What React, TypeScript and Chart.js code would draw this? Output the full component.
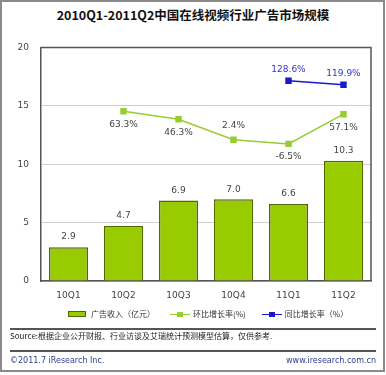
import React, { useEffect, useRef } from "react";
import { Chart, registerables } from "chart.js";

Chart.register(...registerables);

const categories = ["10Q1", "10Q2", "10Q3", "10Q4", "11Q1", "11Q2"];
const revenue = [2.9, 4.7, 6.9, 7.0, 6.6, 10.3];
const qoqGrowth = [null, 63.3, 46.3, 2.4, -6.5, 57.1];
const yoyGrowth = [null, null, null, null, 128.6, 119.9];
const yTicks = [0, 5, 10, 15, 20];
const qoqLabelAbove = [false, false, false, true, false, false];

const title = "2010Q1-2011Q2中国在线视频行业广告市场规模";
const legendBar = "广告收入（亿元）";
const legendQoq = "环比增长率(%)";
const legendYoy = "同比增长率（%）";
const sourceText = "Source:根据企业公开财报、行业访谈及艾瑞统计预测模型估算，仅供参考.";
const footLeft = "©2011.7 iResearch Inc.";
const footRight = "www.iresearch.com.cn";

const FONT = "'DejaVu Sans', 'Noto Sans CJK SC', sans-serif";
const CJK = "'Noto Sans CJK SC', 'DejaVu Sans', sans-serif";

const labelPlugin = {
  id: "valueLabels",
  afterDatasetsDraw(chart: any) {
    const ctx = chart.ctx;
    ctx.save();
    ctx.font = "9px " + FONT;
    ctx.textAlign = "center";
    ctx.textBaseline = "middle";
    chart.data.datasets.forEach((ds: any, di: number) => {
      const meta = chart.getDatasetMeta(di);
      meta.data.forEach((el: any, i: number) => {
        const v = ds.data[i];
        if (v === null || v === undefined) return;
        let text = "";
        let y = el.y;
        if (di === 0) {
          ctx.fillStyle = "#444";
          text = v.toFixed(1);
          y = el.y - 10;
        } else if (di === 1) {
          ctx.fillStyle = "#444";
          text = v.toFixed(1) + "%";
          y = qoqLabelAbove[i] ? el.y - 14 : el.y + 13;
        } else {
          ctx.fillStyle = "#3333cc";
          text = v.toFixed(1) + "%";
          y = el.y - 11;
        }
        ctx.fillText(text, el.x, y);
      });
    });
    ctx.restore();
  },
};

function ChartBox() {
  const ref = useRef<HTMLCanvasElement>(null);
  useEffect(() => {
    if (!ref.current) return;
    const chart = new Chart(ref.current, {
      type: "bar",
      data: {
        labels: categories,
        datasets: [
          {
            type: "bar",
            label: legendBar,
            data: revenue,
            backgroundColor: "#99cc00",
            borderColor: "#4f6b00",
            borderWidth: 1.5,
            categoryPercentage: 1,
            barPercentage: 0.71,
            yAxisID: "y",
            order: 2,
          } as any,
          {
            type: "line",
            label: legendQoq,
            data: qoqGrowth,
            borderColor: "#99cc33",
            backgroundColor: "#99cc33",
            borderWidth: 1.5,
            pointStyle: "rect",
            pointRadius: 3.5,
            yAxisID: "y1",
            order: 1,
          } as any,
          {
            type: "line",
            label: legendYoy,
            data: yoyGrowth,
            borderColor: "#1a1acc",
            backgroundColor: "#1a1acc",
            borderWidth: 1.5,
            pointStyle: "rect",
            pointRadius: 3.5,
            yAxisID: "y1",
            order: 0,
          } as any,
        ],
      },
      options: {
        animation: false,
        responsive: false,
        maintainAspectRatio: false,
        layout: { padding: { top: 13, right: 15, left: 0, bottom: 0 } },
        plugins: { legend: { display: false }, tooltip: { enabled: false } },
        scales: {
          x: {
            grid: { display: false, drawTicks: false },
            border: { color: "#555", width: 1.5 },
            ticks: { color: "#444", font: { size: 9, family: FONT }, padding: 9 },
            afterFit: (s: any) => { s.height = 27; },
          },
          y: {
            min: 0,
            max: 20,
            afterBuildTicks: (s: any) => { s.ticks = yTicks.map((v) => ({ value: v })); },
            grid: { color: "#cfcfcf", lineWidth: 1, drawTicks: false },
            border: { color: "#555", width: 1.5 },
            ticks: { color: "#444", font: { size: 9, family: FONT }, padding: 12 },
            afterFit: (s: any) => { s.width = 41; },
          },
          y1: {
            display: false,
            min: -300,
            max: 200,
          },
        },
      },
      plugins: [
        labelPlugin,
        {
          id: "box",
          afterDraw(c: any) {
            const { left, right, top, bottom } = c.chartArea;
            const ctx = c.ctx;
            ctx.save();
            ctx.strokeStyle = "#555";
            ctx.lineWidth = 1.5;
            ctx.beginPath();
            ctx.moveTo(left, top);
            ctx.lineTo(right, top);
            ctx.lineTo(right, bottom);
            ctx.stroke();
            ctx.restore();
          },
        },
      ],
    } as any);
    return () => chart.destroy();
  }, []);
  return (
    <canvas
      ref={ref}
      width={386}
      height={278}
      style={{ position: "absolute", left: 0, top: 30, width: 386, height: 278 }}
    />
  );
}

function LineMark({ color }: { color: string }) {
  return (
    <span style={{ position: "relative", display: "inline-block", width: 20, height: 7, marginRight: 3 }}>
      <span style={{ position: "absolute", left: 0, top: 3, width: 20, height: 1.5, background: color }} />
      <span style={{ position: "absolute", left: 7, top: 1, width: 6, height: 5, background: color }} />
    </span>
  );
}

export default function App() {
  return (
    <div
      style={{
        position: "fixed",
        left: 0,
        top: 0,
        width: 386,
        height: 375,
        background: "#fff",
        overflow: "hidden",
      }}
    >
      <div
        style={{
          position: "absolute",
          left: 0,
          top: 0,
          width: 381,
          height: 368,
          border: "2px solid #8a8a8a",
        }}
      />
      <div
        style={{
          position: "absolute",
          left: 0,
          top: 6,
          width: 386,
          textAlign: "center",
          fontFamily: CJK,
          fontWeight: "bold",
          fontSize: 12.5,
          lineHeight: "18px",
          color: "#111",
        }}
      >
        {title}
      </div>
      <ChartBox />
      <div
        style={{
          position: "absolute",
          left: 68,
          top: 307,
          display: "flex",
          alignItems: "center",
          fontFamily: CJK,
          fontSize: 8,
          color: "#333",
          lineHeight: "14px",
          whiteSpace: "nowrap",
        }}
      >
        <span style={{ display: "inline-block", width: 16, height: 4, background: "#99cc00", border: "1px solid #4f6b00", marginRight: 5 }} />
        <span style={{ marginRight: 15 }}>{legendBar}</span>
        <LineMark color="#99cc33" />
        <span style={{ marginRight: 16 }}>{legendQoq}</span>
        <LineMark color="#1a1acc" />
        <span>{legendYoy}</span>
      </div>
      <div style={{ position: "absolute", left: 10, top: 328, width: 366, height: 1.5, background: "#555" }} />
      <div
        style={{
          position: "absolute",
          left: 10,
          top: 329,
          fontFamily: CJK,
          fontSize: 8,
          lineHeight: "14px",
          color: "#222",
          whiteSpace: "nowrap",
        }}
      >
        {sourceText}
      </div>
      <div style={{ position: "absolute", left: 10, top: 350, width: 366, height: 1.5, background: "#555" }} />
      <div
        style={{
          position: "absolute",
          left: 10,
          top: 354,
          width: 366,
          display: "flex",
          justifyContent: "space-between",
          fontFamily: FONT,
          fontSize: 8,
          lineHeight: "14px",
          color: "#2b3f8c",
        }}
      >
        <span>{footLeft}</span>
        <span>{footRight}</span>
      </div>
    </div>
  );
}
